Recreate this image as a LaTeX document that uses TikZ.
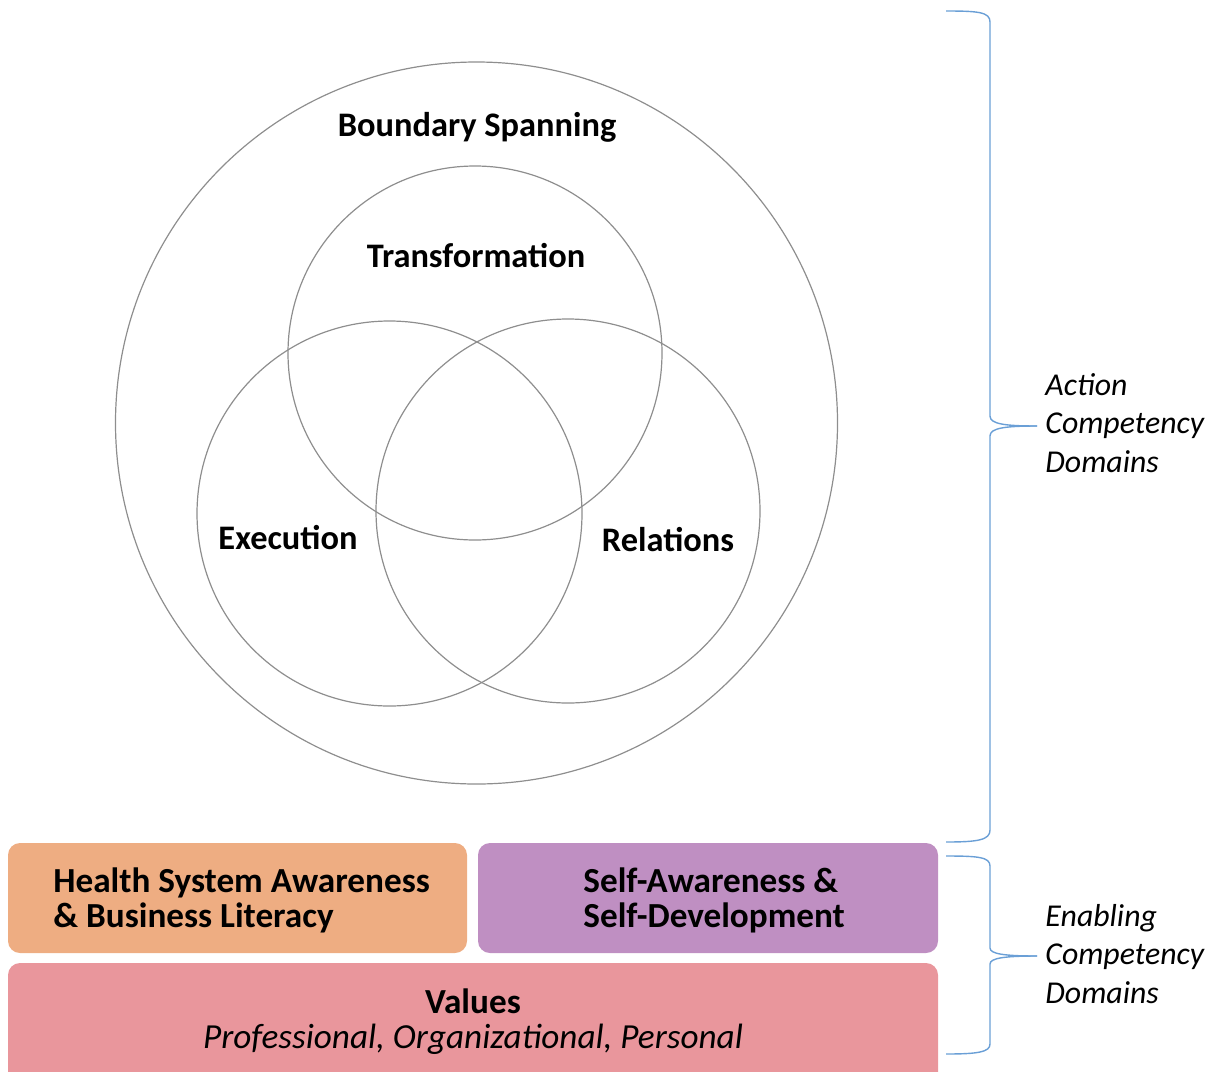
\documentclass[tikz,border=0pt]{standalone}
\usepackage{fontspec}
\setmainfont{Carlito}
\usetikzlibrary{positioning}

\definecolor{ringgray}{HTML}{8E8E8E}
\definecolor{braceblue}{HTML}{6A9FD6}
\definecolor{healthorange}{HTML}{EEAD82}
\definecolor{selfpurple}{HTML}{BF8FC2}
\definecolor{valuespink}{HTML}{E9969C}

\tikzset{
    ring/.style={draw=ringgray, line width=0.6pt},
    ringlabel/.style={font=\fontsize{17.2}{20}\selectfont\bfseries},
    domainbox/.style={rounded corners=6pt, draw=none},
    boxlabel/.style={font=\fontsize{17.6}{17.5}\selectfont\bfseries, align=left, inner sep=0pt},
    bracket/.style={draw=braceblue, line width=0.7pt},
    sidelabel/.style={font=\fontsize{15.9}{19.3}\selectfont\itshape, align=left, anchor=west, inner sep=0pt}
}

\begin{document}
\begin{tikzpicture}[x=0.5pt, y=-0.5pt]
        \useasboundingbox (0,0) rectangle (1220,1071);

        % action competency domains
        \draw[ring] (476.5,423) circle (361);
        \draw[ring] (475,353) circle (187);
        \draw[ring] (389.5,513.5) circle (192.5);
        \draw[ring] (568,511) circle (192);

        \node[ringlabel] (spanning) at (477,127) {Boundary Spanning};
        \node[ringlabel] (transformation) at (476,256) {Transformation};
        \node[ringlabel] (execution) at (288,538) {Execution};
        \node[ringlabel] (relations) at (668,540) {Relations};

        % enabling competency domains
        \begin{scope}
            \clip (0,0) rectangle (1220,1071);
            \fill[domainbox, fill=healthorange] (8,843) rectangle (467,953);
            \fill[domainbox, fill=selfpurple] (478,843) rectangle (938,953);
            \fill[domainbox, fill=valuespink] (8,963) rectangle (938,1090);
        \end{scope}

        \node[boxlabel, anchor=west] (health) at (53,900) {Health System Awareness\\\& Business Literacy};
        \node[boxlabel, anchor=west] (self) at (583,900) {Self-Awareness \&\\Self-Development};
        \node[font=\fontsize{17.6}{20}\selectfont\bfseries] (values) at (473,1001) {Values};
        \node[font=\fontsize{17.6}{20}\selectfont\itshape] (kinds) at (473,1039) {Professional, Organizational, Personal};

        % braces
        \draw[bracket] (946,11) .. controls (978,11) and (990,12) .. (990,22)
            -- (990,416) .. controls (990,424) and (1005,426) .. (1037,426);
        \draw[bracket] (1037,426) .. controls (1005,426) and (990,428) .. (990,436)
            -- (990,830) .. controls (990,840) and (978,842) .. (946,842);
        \draw[bracket] (946,856) .. controls (978,856) and (990,857) .. (990,866)
            -- (990,948) .. controls (990,954) and (1005,956) .. (1037,956);
        \draw[bracket] (1037,956) .. controls (1005,956) and (990,958) .. (990,964)
            -- (990,1044) .. controls (990,1052) and (978,1054) .. (946,1054);

        \node[sidelabel] (action) at (1045,423) {Action\\Competency\\Domains};
        \node[sidelabel] (enabling) at (1045,954) {Enabling\\Competency\\Domains};
    \end{tikzpicture}
\end{document}
